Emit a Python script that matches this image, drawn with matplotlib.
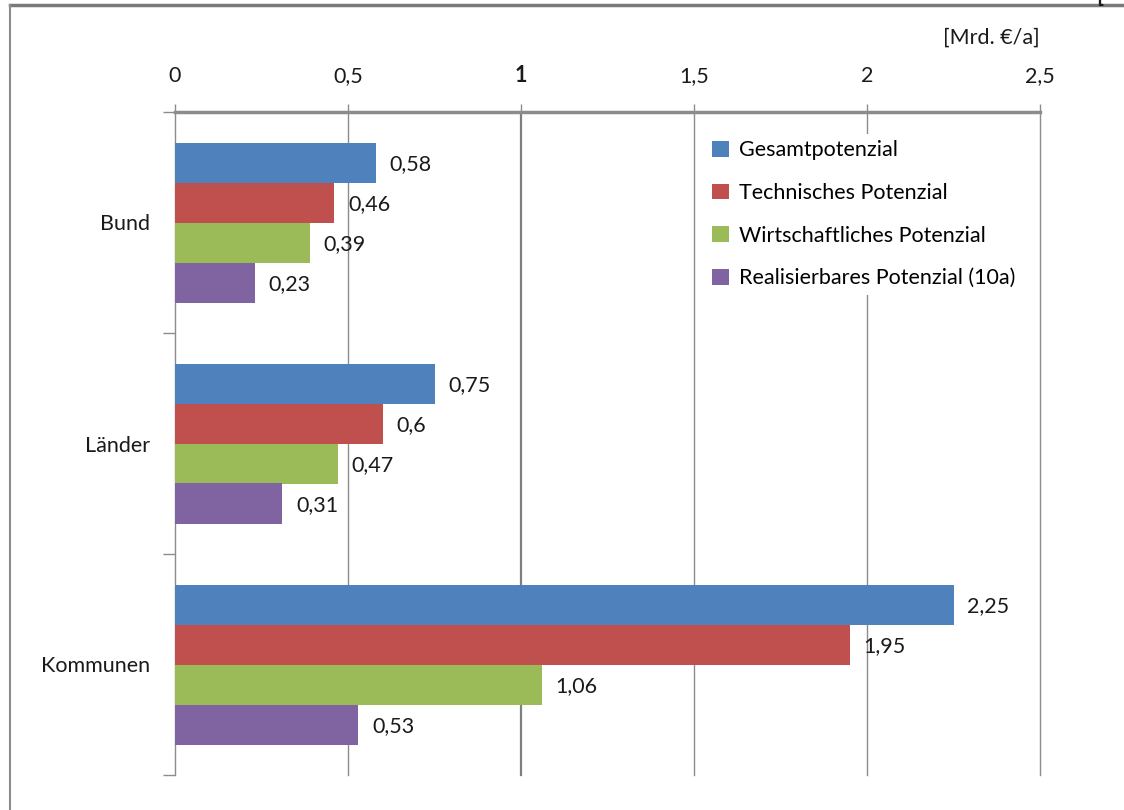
import matplotlib
matplotlib.use("Agg")
import matplotlib.pyplot as plt
from matplotlib.patches import Patch
from matplotlib.lines import Line2D
import numpy as np

plt.rcParams['font.family'] = ['Lato', 'DejaVu Sans']

categories = ["Bund", "Länder", "Kommunen"]
series_names = ["Gesamtpotenzial", "Technisches Potenzial",
                "Wirtschaftliches Potenzial", "Realisierbares Potenzial (10a)"]
gesamt = [0.58, 0.75, 2.25]
technisch = [0.46, 0.60, 1.95]
wirtschaftlich = [0.39, 0.47, 1.06]
realisierbar = [0.23, 0.31, 0.53]
x_ticks = [0, 0.5, 1, 1.5, 2, 2.5]
x_tick_labels = ["0", "0,5", "1", "1,5", "2", "2,5"]
unit_label = "[Mrd. €/a]"

colors = ["#4F81BD", "#C0504D", "#9BBB59", "#8064A2"]
series = [gesamt, technisch, wirtschaftlich, realisierbar]

FS = 15.5
W, H = 1124, 810
fig = plt.figure(figsize=(W / 100, H / 100), dpi=100)
ax = fig.add_axes([175 / W, 1 - 775 / H, (1040 - 175) / W, (775 - 112) / H])

bar_h = 40 / 221
centers = np.arange(len(categories)) + 0.5
for i, (vals, col) in enumerate(zip(series, colors)):
    ys = centers + (i - 1.5) * bar_h
    bars = ax.barh(ys, vals, height=bar_h, color=col, edgecolor='none', zorder=3)
    for b, v in zip(bars, vals):
        txt = f"{v:g}".replace(".", ",")
        ax.annotate(txt, (b.get_width(), b.get_y() + b.get_height() / 2),
                    xytext=(10, -1.5), textcoords='offset points',
                    ha='left', va='center', fontsize=FS, color='#1a1a1a', zorder=4)

ax.set_xlim(0, 2.5)
ax.set_ylim(3, 0)

# vertical gridlines, the one at 1 a bit heavier
for xv in x_ticks[1:]:
    heavy = xv == 1
    ax.axvline(xv, color='#7f7f7f' if heavy else '#8c8c8c',
               lw=1.6 if heavy else 1.0, zorder=1, clip_on=False)

ax.xaxis.tick_top()
ax.set_xticks(x_ticks)
ax.set_xticklabels(x_tick_labels, fontsize=FS, color='#1a1a1a')
for lbl, val in zip(ax.get_xticklabels(), x_ticks):
    if val == 1:
        lbl.set_fontweight('bold')
ax.tick_params(axis='x', direction='out', length=6, width=1, color='#8c8c8c', pad=13)

ax.set_yticks([0, 1, 2, 3])
ax.set_yticklabels([])
ax.set_yticks(centers, minor=True)
ax.set_yticklabels(categories, minor=True, fontsize=FS, color='#1a1a1a')
ax.tick_params(axis='y', which='major', direction='out', length=9, width=1, color='#8c8c8c')
ax.tick_params(axis='y', which='minor', length=0, pad=18)

for s in ['right', 'bottom']:
    ax.spines[s].set_visible(False)
ax.spines['top'].set_color('#8c8c8c')
ax.spines['top'].set_linewidth(2.5)
ax.spines['left'].set_color('#8c8c8c')
ax.spines['left'].set_linewidth(1.0)

handles = [Patch(facecolor=c, edgecolor='none') for c in colors]
leg = ax.legend(handles, series_names, loc='upper left',
                bbox_to_anchor=((706 - 175) / (1040 - 175), 1 - (134 - 112) / 663),
                frameon=True, fontsize=FS, handlelength=0.75, handleheight=0.75,
                handletextpad=0.5, labelspacing=1.05, borderpad=0.3,
                fancybox=False, framealpha=1, borderaxespad=0)
leg.get_frame().set_edgecolor('none')
leg.get_frame().set_facecolor('white')
leg.set_zorder(5)

fig.text(1040 / W, 1 - 38 / H, unit_label, ha='right', va='center',
         fontsize=FS, color='#1a1a1a')

# outer chart frame (top and left edges)
fig.add_artist(Line2D([10 / W, 1], [1 - 5 / H, 1 - 5 / H], transform=fig.transFigure,
                      color='#7a7a7a', lw=2.5))
fig.add_artist(Line2D([10 / W, 10 / W], [0, 1 - 5 / H], transform=fig.transFigure,
                      color='#8c8c8c', lw=1.5))
fig.text(1100 / W, 1 + 4 / H, "[", ha='center', va='center', fontsize=16,
         fontweight='bold', color='#1a1a1a')

fig.savefig("out.png", dpi=100, facecolor='white')
